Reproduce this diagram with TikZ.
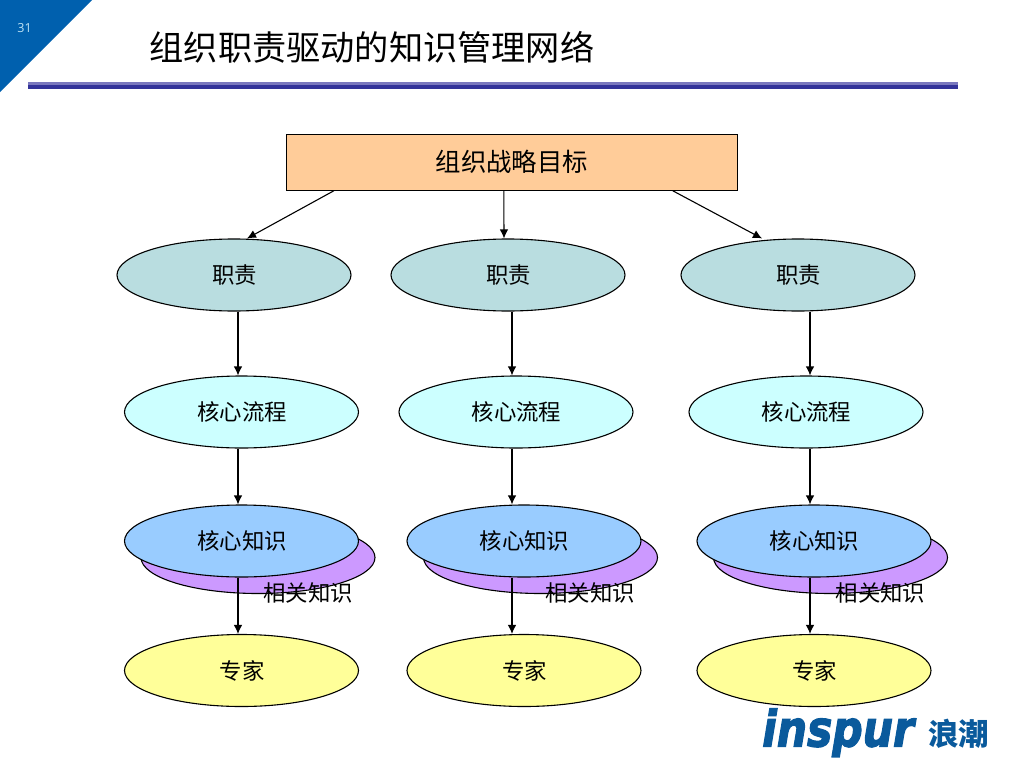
\documentclass[tikz,border=0pt]{standalone}
\usepackage{fontspec}
\usetikzlibrary{arrows.meta,shapes.geometric,calc}
\setmainfont{Open Sans}
\newfontfamily\cjk{Noto Sans CJK SC}
\newfontfamily\logofont[BoldItalicFont={DejaVu Sans Bold Oblique},BoldItalicFeatures={FakeBold=2.5}]{DejaVu Sans}
\definecolor{corner}{HTML}{0060AE}
\definecolor{pageno}{HTML}{BFE3F5}
\definecolor{ruleL}{HTML}{7A78BE}
\definecolor{ruleD}{HTML}{333399}
\definecolor{boxF}{HTML}{FFCC99}
\definecolor{dutyF}{HTML}{B9DDE0}
\definecolor{procF}{HTML}{CCFFFF}
\definecolor{knowF}{HTML}{99CCFF}
\definecolor{relF}{HTML}{CC99FF}
\definecolor{expF}{HTML}{FFFF99}
\definecolor{logoC}{HTML}{0A5A9C}
\tikzset{
 x=1pt,y=-1pt,
 oval/.style={ellipse,draw=black,line width=1.1pt,minimum width=234pt,minimum height=72pt,inner sep=0pt,font=\cjk\fontsize{22.4}{22.4}\selectfont},
 duty/.style={oval,fill=dutyF},
 proc/.style={oval,fill=procF},
 know/.style={oval,fill=knowF},
 rel/.style={oval,fill=relF},
 expert/.style={oval,fill=expF},
 arr/.style={draw=black,line width=1.1pt,-{Latex[length=9pt,width=8.5pt]}},
 lbl/.style={font=\cjk\fontsize{22.4}{22.4}\selectfont,inner sep=0pt},
}
\begin{document}
\begin{tikzpicture}
\useasboundingbox (0,0) rectangle (1024,768);
\fill[corner] (0,0) -- (92,0) -- (0,92) -- cycle;
\node[text=pageno,font=\fontsize{12.5}{12.5}\selectfont,inner sep=0pt] (pg) at (24.5,28) {31};
\node[anchor=west,inner sep=0pt,font=\cjk\fontsize{34.2}{34.2}\selectfont] (title) at (149.5,47.5) {组织职责驱动的知识管理网络};
\fill[ruleL] (28,82.3) rectangle (958,84.5);
\fill[ruleD] (28,84.5) rectangle (958,88.6);

\node[draw=black,line width=1pt,fill=boxF,minimum width=451.5pt,minimum height=56pt,inner sep=0pt,font=\cjk\fontsize{25.4}{25.4}\selectfont] (goal) at (511.8,162.3) {\raisebox{-0.5pt}{组织战略目标}};

\node[duty] (d1) at (234,275) {\hspace{1pt}\raisebox{-1pt}{职责}};
\node[duty] (d2) at (508,275) {\hspace{1pt}\raisebox{-1pt}{职责}};
\node[duty] (d3) at (798,275) {\hspace{1pt}\raisebox{-1pt}{职责}};
\node[proc] (p1) at (241.5,412) {\hspace{1pt}\raisebox{-1pt}{核心流程}};
\node[proc] (p2) at (516,412) {\hspace{1pt}\raisebox{-1pt}{核心流程}};
\node[proc] (p3) at (806,412) {\hspace{1pt}\raisebox{-1pt}{核心流程}};
\node[rel] (r1) at (258,557.5) {};
\node[rel] (r2) at (540.5,557.5) {};
\node[rel] (r3) at (830.5,557.5) {};
\node[know] (k1) at (241.5,541) {\hspace{1pt}\raisebox{-1pt}{核心知识}};
\node[know] (k2) at (524,541) {\hspace{1pt}\raisebox{-1pt}{核心知识}};
\node[know] (k3) at (814,541) {\hspace{1pt}\raisebox{-1pt}{核心知识}};
\node[expert] (e1) at (241.5,670.5) {\hspace{1pt}\raisebox{-1pt}{专家}};
\node[expert] (e2) at (524,670.5) {\hspace{1pt}\raisebox{-1pt}{专家}};
\node[expert] (e3) at (814,670.5) {\hspace{1pt}\raisebox{-1pt}{专家}};

\draw[arr] ([xshift=-178pt]goal.south) -- ([xshift=13pt]d1.north);
\draw[arr] ([xshift=-8pt]goal.south) -- ([xshift=-4pt]d2.north);
\draw[arr] ([xshift=161pt]goal.south) -- ([xshift=-36pt]d3.north);
\draw[arr] ([xshift=4pt]d1.south) -- ([xshift=-3.5pt]p1.north);
\draw[arr] ([xshift=4pt]d2.south) -- ([xshift=-4pt]p2.north);
\draw[arr] ([xshift=12pt]d3.south) -- ([xshift=4pt]p3.north);
\draw[arr] ([xshift=-3.5pt]p1.south) -- ([xshift=-3.5pt]k1.north);
\draw[arr] ([xshift=-4pt]p2.south) -- ([xshift=-12pt]k2.north);
\draw[arr] ([xshift=4pt]p3.south) -- ([xshift=-4pt]k3.north);
\draw[arr] ([xshift=-3.5pt]k1.south) -- ([xshift=-3.5pt]e1.north);
\draw[arr] ([xshift=-12pt]k2.south) -- ([xshift=-12pt]e2.north);
\draw[arr] ([xshift=-4pt]k3.south) -- ([xshift=-4pt]e3.north);

\node[lbl] (t1) at (308,593) {相关知识};
\node[lbl] (t2) at (590,593) {相关知识};
\node[lbl] (t3) at (880.5,593) {相关知识};

\node[anchor=base west,inner sep=0pt,text=logoC] (logo) at (762,746.5) {\scalebox{0.85}[1]{\logofont\bfseries\itshape\fontsize{50}{50}\selectfont inspur}};
\node[anchor=west,inner sep=0pt,text=logoC,font=\cjk\bfseries\fontsize{30.5}{30.5}\selectfont] (logocn) at (928,733.5) {浪潮};
\end{tikzpicture}
\end{document}
